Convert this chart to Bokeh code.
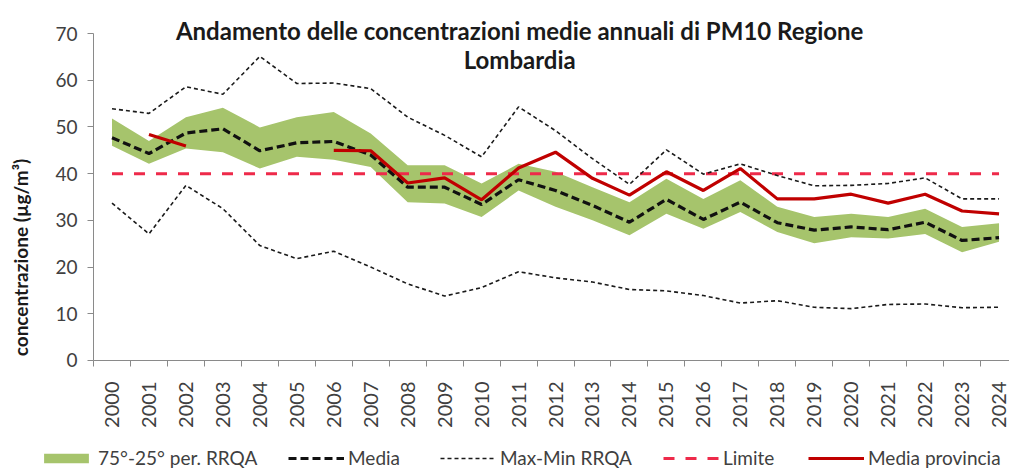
from math import pi, nan
from bokeh.plotting import figure
from bokeh.models import FixedTicker, Label, Legend, LegendItem, Range1d
from bokeh.embed import file_html
from bokeh.resources import INLINE

years = [2000, 2001, 2002, 2003, 2004, 2005, 2006, 2007, 2008, 2009, 2010, 2011, 2012,
         2013, 2014, 2015, 2016, 2017, 2018, 2019, 2020, 2021, 2022, 2023, 2024]
p75 = [51.8, 47.0, 52.1, 54.1, 49.9, 52.1, 53.2, 48.6, 41.8, 41.8, 37.9, 42.1, 40.4,
       37.1, 33.9, 38.9, 34.6, 38.6, 32.9, 30.7, 31.4, 30.7, 32.5, 28.6, 29.4]
p25 = [46.0, 42.1, 45.4, 44.6, 41.1, 43.6, 43.0, 41.4, 33.9, 33.6, 30.7, 36.4, 32.9,
       30.0, 26.8, 31.4, 28.2, 31.8, 27.5, 25.1, 26.4, 26.1, 27.1, 23.2, 25.4]
media = [47.7, 44.3, 48.7, 49.6, 44.9, 46.6, 46.9, 44.0, 37.1, 37.1, 33.4, 38.7, 36.4,
         33.2, 29.6, 34.5, 30.2, 33.9, 29.5, 27.9, 28.6, 28.0, 29.6, 25.7, 26.3]
max_rrqa = [53.9, 52.9, 58.6, 57.0, 65.1, 59.3, 59.4, 58.2, 52.1, 48.2, 43.6, 54.3, 49.2,
            43.2, 37.7, 45.1, 39.9, 42.1, 39.6, 37.4, 37.5, 37.9, 39.1, 34.6, 34.6]
min_rrqa = [33.7, 27.1, 37.5, 32.5, 24.6, 21.8, 23.4, 20.0, 16.4, 13.8, 15.6, 19.0, 17.7,
            16.8, 15.2, 14.9, 13.9, 12.3, 12.8, 11.4, 11.1, 12.0, 12.1, 11.3, 11.4]
limite = [40, 40, 40, 40, 40, 40, 40, 40, 40, 40, 40, 40, 40,
          40, 40, 40, 40, 40, 40, 40, 40, 40, 40, 40, 40]
media_provincia = [nan, 48.4, 45.9, nan, nan, nan, 45.0, 44.9, 38.0, 39.1, 34.4, 41.2, 44.6,
                   39.0, 35.4, 40.4, 36.4, 41.1, 34.6, 34.6, 35.6, 33.7, 35.6, 32.0, 31.4]
y_ticks = [0, 10, 20, 30, 40, 50, 60, 70]

title_1 = "Andamento delle concentrazioni medie annuali di PM10 Regione"
title_2 = "Lombardia"
y_title = "concentrazione (µg/m³)"
legend_labels = ["75°-25° per. RRQA", "Media", "Max-Min RRQA", "Limite", "Media provincia"]

FONT = "Lato"
AXIS = "#8a8a8a"
TXT = "#404040"

# the frame covers the whole canvas; axes are pinned to data positions
p = figure(width=1009, height=475, output_backend="svg", toolbar_location=None,
           x_range=Range1d(1996.983, 2024.283), y_range=Range1d(-24.62, 77.07),
           min_border_left=0, min_border_right=0, min_border_top=0, min_border_bottom=0)
p.outline_line_color = None
p.xgrid.grid_line_color = None
p.ygrid.grid_line_color = None

band = p.varea(x=years, y1=p25, y2=p75, fill_color="#a6c46c", fill_alpha=1.0)
lim = p.line(years, limite, line_color="#ee2a4a", line_width=3, line_dash="11 11")
mx = p.line(years, max_rrqa, line_color="#1a1a1a", line_width=1.6, line_dash="4 3")
mn = p.line(years, min_rrqa, line_color="#1a1a1a", line_width=1.6, line_dash="4 3")
md = p.line(years, media, line_color="#111111", line_width=3.2, line_dash="8 4")
mp = p.line(years, media_provincia, line_color="#c00000", line_width=3.2)

xa = p.xaxis[0]
xa.fixed_location = 0
xa.bounds = (1999.5, 2024.5)
xa.ticker = FixedTicker(ticks=years, minor_ticks=[y - 0.5 for y in years] + [years[-1] + 0.5])
xa.major_tick_line_color = None
xa.major_tick_out = 6
xa.major_tick_in = 0
xa.minor_tick_line_color = AXIS
xa.minor_tick_out = 6
xa.minor_tick_in = 0
xa.axis_line_color = AXIS
xa.major_label_orientation = pi / 2
xa.major_label_standoff = 15
xa.major_label_text_font = FONT
xa.major_label_text_font_size = "20px"
xa.major_label_text_color = TXT

ya = p.yaxis[0]
ya.fixed_location = 1999.5
ya.bounds = (0, 70)
ya.ticker = FixedTicker(ticks=y_ticks)
ya.minor_tick_line_color = None
ya.major_tick_line_color = AXIS
ya.major_tick_out = 6
ya.major_tick_in = 0
ya.axis_line_color = AXIS
ya.major_label_standoff = 10
ya.major_label_text_font = FONT
ya.major_label_text_font_size = "19px"
ya.major_label_text_color = TXT

p.add_layout(Label(x=2011.03, y=70.65, text=title_1, text_align="center", text_baseline="alphabetic",
                   text_font=FONT, text_font_style="bold", text_font_size="24px", text_color="#1a1a1a"))
p.add_layout(Label(x=2011.03, y=64.44, text=title_2, text_align="center", text_baseline="alphabetic",
                   text_font=FONT, text_font_style="bold", text_font_size="24px", text_color="#1a1a1a"))
p.add_layout(Label(x=1997.524, y=22.05, text=y_title, angle=pi / 2, text_align="center",
                   text_baseline="middle", text_font=FONT, text_font_style="bold",
                   text_font_size="19px", text_color="#1a1a1a"))

renderers = [band, md, mx, lim, mp]
glyph_x = [38, 288, 440, 663, 808]
for lab, r, gx in zip(legend_labels, renderers, glyph_x):
    lg = Legend(items=[LegendItem(label=lab, renderers=[r])], location=(gx, 6),
                orientation="horizontal", glyph_width=56, glyph_height=(12 if r is band else 20),
                label_height=20, label_standoff=4, padding=0, margin=0, spacing=0,
                border_line_color=None, background_fill_alpha=0,
                label_text_font=FONT, label_text_font_size="19px", label_text_color=TXT)
    p.add_layout(lg, "center")

open("out.html", "w").write(file_html(p, INLINE))
